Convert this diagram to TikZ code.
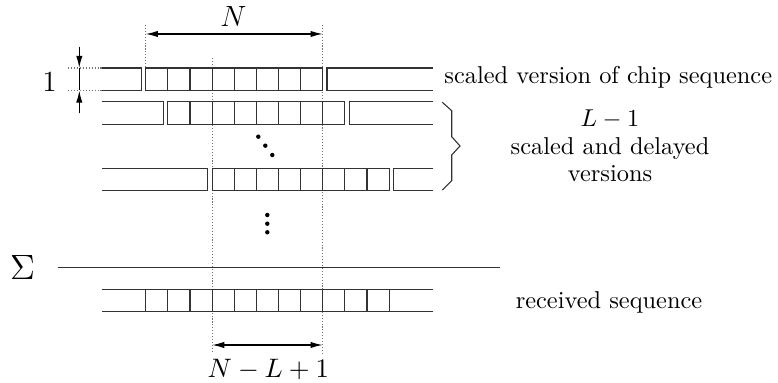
\documentclass[tikz,border=0pt]{standalone}
\usetikzlibrary{arrows.meta}
\begin{document}
\begin{tikzpicture}[x=0.41pt,y=-0.41pt,
  seq/.style={line width=0.45pt, draw=black!80},
  guide/.style={line width=0.45pt, draw=black!55, dash pattern=on 0.45pt off 0.75pt},
  dim/.style={line width=0.5pt, -{Latex[length=5pt,width=2.6pt]}},
  lbl/.style={inner sep=0pt, anchor=base},
  dot/.style={fill=black, draw=none}]
\useasboundingbox (0,0) rectangle (778,383);

% chip width, start of the undelayed chip block, ends of every sequence
\def\cw{22.125}
\def\xo{145.7}
\def\xl{101.7}
\def\xr{433.3}

% one scaled copy of the chip sequence: #1 top edge, #2 delay in chips
\newcommand\delayedrow[2]{%
  \pgfmathsetmacro\rowS{\xo+#2*\cw}%
  \pgfmathsetmacro\rowE{\rowS+8*\cw}%
  \pgfmathsetmacro\rowB{#1+22.5}%
  \draw[seq] (\xl,#1) -- (\rowS-4.3,#1) -- (\rowS-4.3,\rowB) -- (\xl,\rowB);
  \draw[seq] (\rowS,#1) rectangle (\rowE,\rowB);
  \foreach \k in {1,...,7} \draw[seq] (\rowS+\k*\cw,#1) -- (\rowS+\k*\cw,\rowB);
  \draw[seq] (\xr,#1) -- (\rowE+4.3,#1) -- (\rowE+4.3,\rowB) -- (\xr,\rowB);
}

% dotted guides marking chip boundaries
\draw[guide] (\xo,25) -- (\xo,68);
\draw[guide] (\xo+8*\cw,25) -- (\xo+8*\cw,353);
\draw[guide] (\xo+3*\cw,58) -- (\xo+3*\cw,353);

% the sequences
\delayedrow{68}{0}
\delayedrow{101.7}{1}
\delayedrow{168.3}{3}

% received sequence
\draw[seq] (\xl,289.3) -- (\xr,289.3);
\draw[seq] (\xl,311.8) -- (\xr,311.8);
\foreach \k in {0,...,11} \draw[seq] (\xo+\k*\cw,289.3) -- (\xo+\k*\cw,311.8);

% summation line
\coordinate (sumL) at (57.7,267.7);
\coordinate (sumR) at (500,267.7);
\draw[seq] (sumL) -- (sumR);
\node[lbl] (sum) at (22.5,280) {\fontsize{13.5}{16}\selectfont$\Sigma$};

% length N
\coordinate (nL) at (\xo,34);
\coordinate (nR) at (\xo+8*\cw,34);
\draw[dim, {Latex[length=5pt,width=2.6pt]}-{Latex[length=5pt,width=2.6pt]}] (nL) -- (nR);
\node[lbl] (nlab) at (233.3,26.7) {\large$N$};

% length N-L+1
\coordinate (mL) at (\xo+3*\cw,345);
\coordinate (mR) at (\xo+8*\cw,345);
\draw[dim, {Latex[length=5pt,width=2.6pt]}-{Latex[length=5pt,width=2.6pt]}] (mL) -- (mR);
\node[lbl] (mlab) at (268.3,377.3) {\fontsize{10.5}{12}\selectfont$N-L+1$};

% unit amplitude
\coordinate (oneT) at (79.3,46.7);
\coordinate (oneA) at (79.3,68);
\coordinate (oneB) at (79.3,90.5);
\coordinate (oneBot) at (79.3,113.3);
\draw[dim] (oneT) -- (oneA);
\draw[dim] (oneBot) -- (oneB);
\draw[line width=0.5pt] (oneA) -- (oneB);
\draw[guide] (68.3,68) -- (\xl,68);
\draw[guide] (68.3,90.5) -- (\xl,90.5);
\node[lbl] (onelab) at (49.5,91.7) {\large 1};

% dots
\foreach \p in {(258.3,136.7),(265.3,145.7),(272.3,155),(267.3,215),(267.3,223.7),(267.3,232.3)}
  \fill[dot] \p circle (2.2);

% brace over the delayed copies
\draw[seq] (442.3,102.3) -- (451.7,110.7) -- (451.7,136.7) -- (460,146)
  -- (451.7,155) -- (451.7,180.7) -- (442.3,190);

% captions
\node[inner sep=0pt, anchor=base west] (cap1) at (444,84) {scaled version of chip sequence};
\node[lbl] (cap2) at (610,126.7) {$L-1$};
\node[lbl] (cap3) at (610,155) {scaled and delayed};
\node[lbl] (cap4) at (610,181.7) {versions};
\node[lbl] (cap5) at (609,308.3) {received sequence};
\end{tikzpicture}
\end{document}
